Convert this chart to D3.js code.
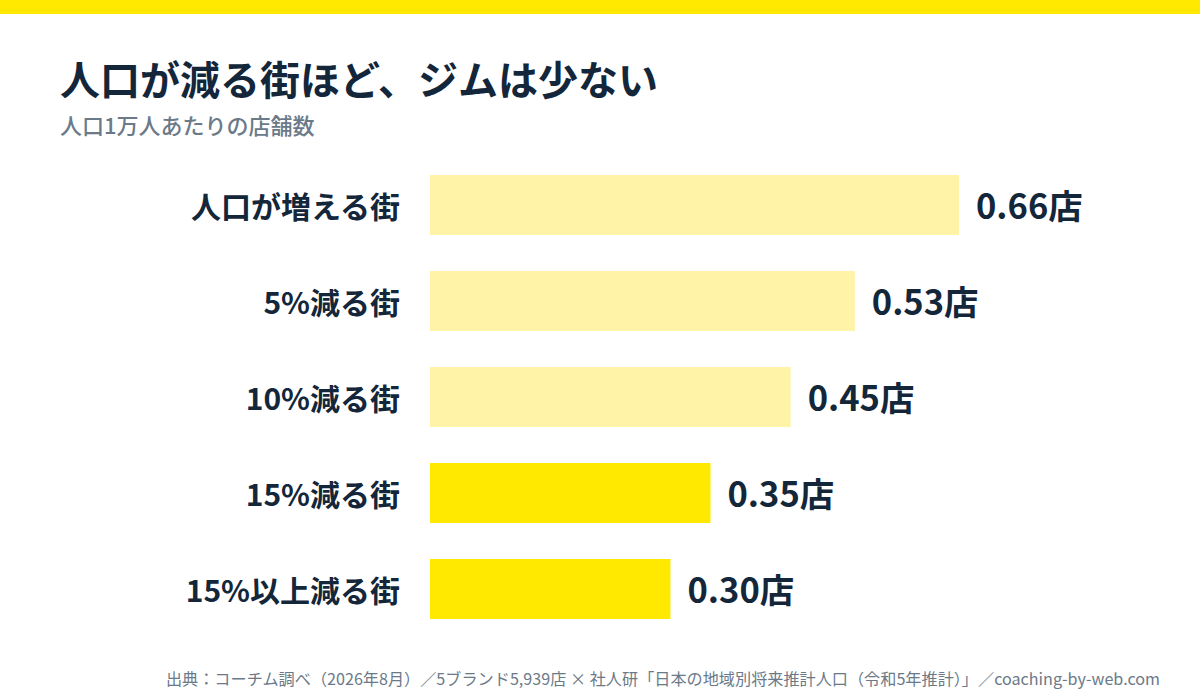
<html>
<head>
<meta charset="utf-8">
<script src="https://d3js.org/d3.v7.min.js"></script>
<style>
  body { margin: 0; background: #fff; }
  text { font-family: "Noto Sans CJK JP", "Noto Sans", sans-serif; }
</style>
</head>
<body>
<script>
  var categories = ["人口が増える街", "5%減る街", "10%減る街", "15%減る街", "15%以上減る街"];
  var values = [0.66, 0.53, 0.45, 0.35, 0.30];
  var valueLabels = ["0.66店", "0.53店", "0.45店", "0.35店", "0.30店"];
  var highlight = [false, false, false, true, true];

  var width = 1200, height = 700;
  var ink = "#13263a";

  var svg = d3.select("body").append("svg")
    .attr("width", width).attr("height", height);

  svg.append("rect").attr("x", 0).attr("y", 0).attr("width", width).attr("height", 14)
    .attr("fill", "#ffe900");

  svg.append("text").attr("x", 60).attr("y", 95)
    .attr("font-size", 40).attr("font-weight", 700).attr("fill", ink)
    .text("人口が減る街ほど、ジムは少ない");
  svg.append("text").attr("x", 60).attr("y", 134)
    .attr("font-size", 22).attr("font-weight", 500).attr("fill", "#6b7a89")
    .text("人口1万人あたりの店舗数");

  var x = d3.scaleLinear().domain([0, 0.66]).range([430, 959]);
  var y = d3.scaleBand().domain(categories).range([157, 637]).paddingInner(0.375).paddingOuter(0.1875);

  var rows = svg.selectAll("g.row").data(categories).enter().append("g").attr("class", "row");

  rows.append("rect")
    .attr("x", x(0))
    .attr("y", d => y(d))
    .attr("width", (d, i) => x(values[i]) - x(0))
    .attr("height", y.bandwidth())
    .attr("fill", (d, i) => highlight[i] ? "#ffe900" : "#fff3a8");

  rows.append("text")
    .attr("x", 400)
    .attr("y", d => y(d) + y.bandwidth() / 2 + 2)
    .attr("dy", "0.35em")
    .attr("text-anchor", "end")
    .attr("font-size", 30).attr("font-weight", 700).attr("fill", ink)
    .text(d => d);

  rows.append("text")
    .attr("x", (d, i) => x(values[i]) + 17)
    .attr("y", d => y(d) + y.bandwidth() / 2 + 2)
    .attr("dy", "0.35em")
    .attr("font-size", 34.5).attr("font-weight", 700).attr("fill", ink)
    .text((d, i) => valueLabels[i]);

  svg.append("text").attr("x", 1160).attr("y", 685)
    .attr("text-anchor", "end")
    .attr("font-size", 16.15).attr("fill", "#6b7a89")
    .text("出典：コーチム調べ（2026年8月）／5ブランド5,939店 × 社人研「日本の地域別将来推計人口（令和5年推計）」／coaching-by-web.com");
</script>
</body>
</html>
